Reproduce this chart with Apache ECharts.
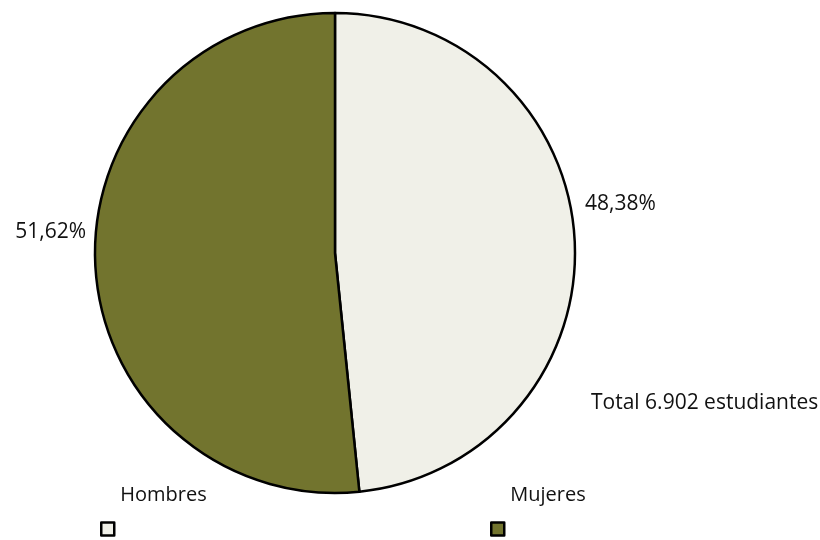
<!DOCTYPE html>
<html>
<head>
<meta charset="utf-8">
<script src="https://cdn.jsdelivr.net/npm/echarts@6/dist/echarts.min.js"></script>
<style>html,body{margin:0;padding:0;background:#fff}#c{width:820px;height:540px}</style>
</head>
<body>
<div id="c"></div>
<script>
var categories = ['Hombres', 'Mujeres'];
var values = [48.38, 51.62];
var labels = ['48,38%', '51,62%'];
var colors = ['#f0f0e8', '#72742e'];
var totalText = 'Total 6.902 estudiantes';

var font = '"Open Sans", sans-serif';
var chart = echarts.init(document.getElementById('c'));
var labelPos = [
  {x: 585, y: 204, align: 'left'},
  {x: 86, y: 232, align: 'right'}
];
chart.setOption({
  animation: false,
  title: {
    text: totalText,
    left: 586, top: 388,
    textStyle: {fontFamily: font, fontSize: 21, fontWeight: 'normal', color: '#111'}
  },
  legend: [0, 1].map(function (i) {
    return {
      data: [categories[i]],
      left: i === 0 ? 95 : 485,
      top: 480,
      padding: 5,
      icon: 'rect',
      itemWidth: 13,
      itemHeight: 13,
      itemStyle: {borderColor: '#000', borderWidth: 2.5},
      formatter: '{a|{name}}',
      textStyle: {
        fontFamily: font, fontSize: 20, color: '#111',
        rich: {a: {fontFamily: font, fontSize: 20, color: '#111', padding: [0, 0, 68, 1]}}
      },
      selectedMode: false
    };
  }),
  series: [{
    type: 'pie',
    center: [335, 253],
    radius: 240,
    startAngle: 90,
    clockwise: true,
    data: categories.map(function (c, i) {
      return {name: c, value: values[i], itemStyle: {color: colors[i]},
        label: {formatter: labels[i]}};
    }),
    itemStyle: {borderColor: '#000', borderWidth: 2.5},
    label: {show: true, position: 'outside', overflow: 'none', fontFamily: font, fontSize: 21, color: '#111'},
    labelLine: {show: false},
    labelLayout: function (p) {
      var l = labelPos[p.dataIndex];
      return {x: l.x, y: l.y, align: l.align, verticalAlign: 'middle'};
    },
    emphasis: {disabled: true}
  }]
});
</script>
</body>
</html>
